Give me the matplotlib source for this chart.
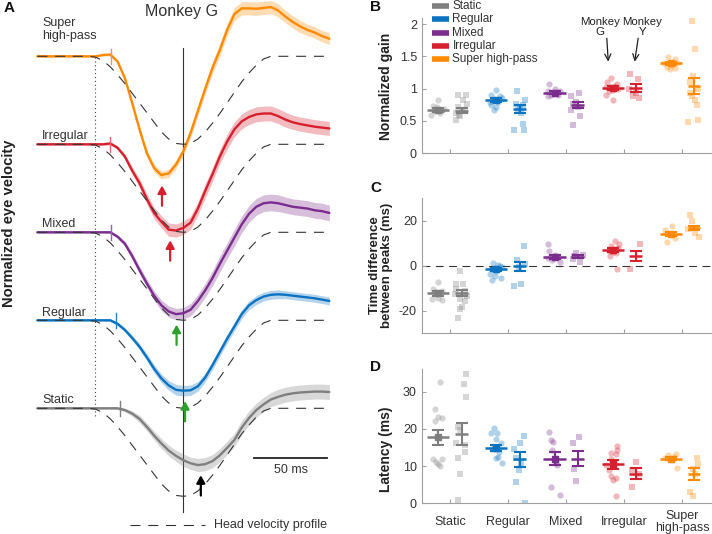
import numpy as np
import matplotlib
matplotlib.use('Agg')
import matplotlib.pyplot as plt

plt.rcParams['font.family'] = ['Liberation Sans', 'DejaVu Sans']

W, H = 712, 534

# ===================== DATA: panel A (Monkey G traces) =====================
time_ms = np.arange(-100, 101, 5)
trace_names = ['Super high-pass', 'Irregular', 'Mixed', 'Regular', 'Static']

vel_super = [0, 0, 0, 0, 0, 0, 0, 0, 0,
             0.015, 0.02, -0.06, -0.25, -0.53, -0.83, -1.10, -1.27, -1.35, -1.33, -1.23,
             -1.08, -0.87, -0.62, -0.37, -0.13, 0.07, 0.30, 0.48, 0.545, 0.545,
             0.54, 0.55, 0.56, 0.52, 0.45, 0.39, 0.34, 0.30, 0.27, 0.23, 0.20]
vel_irregular = [0, 0, 0, 0, 0, 0, 0, 0, 0, 0,
                 0.01, -0.04, -0.14, -0.30, -0.44, -0.62, -0.78, -0.88, -0.97, -0.98,
                 -0.95, -0.89, -0.73, -0.53, -0.34, -0.14, 0.03, 0.17, 0.26, 0.31,
                 0.34, 0.35, 0.35, 0.32, 0.28, 0.25, 0.23, 0.215, 0.20, 0.19, 0.18]
vel_mixed = [0, 0, 0, 0, 0, 0, 0, 0, 0, 0,
             0.0, -0.05, -0.13, -0.27, -0.43, -0.58, -0.72, -0.83, -0.90, -0.93,
             -0.92, -0.88, -0.78, -0.66, -0.52, -0.36, -0.21, -0.06, 0.09, 0.21,
             0.29, 0.33, 0.34, 0.33, 0.31, 0.29, 0.28, 0.27, 0.25, 0.24, 0.22]
vel_regular = [0, 0, 0, 0, 0, 0, 0, 0, 0, 0,
               0.0, -0.04, -0.11, -0.20, -0.30, -0.42, -0.55, -0.66, -0.74, -0.79,
               -0.80, -0.795, -0.75, -0.65, -0.51, -0.36, -0.21, -0.07, 0.07, 0.17,
               0.23, 0.27, 0.29, 0.295, 0.29, 0.28, 0.27, 0.26, 0.25, 0.235, 0.22]
vel_static = [0, 0, 0, 0, 0, 0, 0, 0, 0, 0, 0, 0,
              -0.02, -0.06, -0.12, -0.21, -0.31, -0.40, -0.48, -0.54,
              -0.59, -0.625, -0.645, -0.635, -0.60, -0.535, -0.45, -0.36, -0.22, -0.11,
              -0.02, 0.045, 0.10, 0.13, 0.155, 0.17, 0.18, 0.185, 0.19, 0.19, 0.185]

sem_super = [0.01, 0.01, 0.01, 0.01, 0.01, 0.01, 0.01, 0.01, 0.01, 0.01,
             0.015, 0.02, 0.025, 0.03, 0.035, 0.04, 0.045, 0.045, 0.045, 0.05,
             0.05, 0.055, 0.06, 0.06, 0.065, 0.07, 0.07, 0.075, 0.075, 0.075,
             0.075, 0.075, 0.075, 0.075, 0.07, 0.07, 0.07, 0.065, 0.065, 0.065, 0.065]
sem_irregular = [0.01, 0.01, 0.01, 0.01, 0.01, 0.01, 0.01, 0.01, 0.01, 0.01,
                 0.015, 0.02, 0.03, 0.04, 0.05, 0.06, 0.065, 0.07, 0.075, 0.075,
                 0.075, 0.075, 0.075, 0.08, 0.08, 0.08, 0.085, 0.085, 0.085, 0.085,
                 0.085, 0.085, 0.085, 0.085, 0.085, 0.08, 0.08, 0.08, 0.08, 0.08, 0.08]
sem_mixed = [0.01, 0.01, 0.01, 0.01, 0.01, 0.01, 0.01, 0.01, 0.01, 0.01,
             0.015, 0.02, 0.03, 0.04, 0.045, 0.05, 0.055, 0.06, 0.065, 0.065,
             0.065, 0.07, 0.075, 0.08, 0.085, 0.09, 0.09, 0.095, 0.095, 0.095,
             0.095, 0.095, 0.095, 0.095, 0.09, 0.09, 0.09, 0.09, 0.09, 0.09, 0.09]
sem_regular = [0.01, 0.01, 0.01, 0.01, 0.01, 0.01, 0.01, 0.01, 0.01, 0.01,
               0.015, 0.02, 0.025, 0.03, 0.035, 0.04, 0.045, 0.05, 0.055, 0.06,
               0.06, 0.06, 0.055, 0.05, 0.05, 0.05, 0.05, 0.05, 0.05, 0.05,
               0.05, 0.05, 0.05, 0.05, 0.045, 0.045, 0.045, 0.045, 0.045, 0.045, 0.045]
sem_static = [0.01, 0.01, 0.01, 0.01, 0.01, 0.01, 0.01, 0.01, 0.01, 0.01, 0.01, 0.015,
              0.02, 0.03, 0.04, 0.045, 0.05, 0.055, 0.06, 0.065,
              0.07, 0.07, 0.075, 0.075, 0.075, 0.075, 0.075, 0.075, 0.08, 0.08,
              0.08, 0.08, 0.08, 0.085, 0.085, 0.085, 0.085, 0.085, 0.085, 0.085, 0.085]

head_velocity = [0, 0, 0, 0, 0, 0, 0, 0,
                 -0.01, -0.05, -0.12, -0.21, -0.31, -0.42, -0.53, -0.64, -0.75, -0.86, -0.94, -0.99,
                 -1.0, -0.99, -0.94, -0.86, -0.76, -0.65, -0.53, -0.41, -0.29, -0.19, -0.10, -0.03, 0.0,
                 0, 0, 0, 0, 0, 0, 0, 0]

onset_ms = [-49.5, -50.2, -49.5, -46.0, -43.4]
eye_peak_ms = [-14.6, -9.0, -4.6, 1.2, 12.0]

# ===================== DATA: panels B-D =====================
categories = ['Static', 'Regular', 'Mixed', 'Irregular', 'Super high-pass']
cat_ticklabels = ['Static', 'Regular', 'Mixed', 'Irregular', 'Super\nhigh-pass']

gain_G_vals = [[0.82, 0.73, 0.59, 0.65, 0.67, 0.72, 0.62, 0.69],
               [0.98, 0.90, 0.88, 0.83, 0.80, 0.75, 0.72, 0.67, 0.85, 0.80],
               [1.08, 1.00, 0.96, 0.90, 0.90, 0.88, 0.96],
               [1.16, 1.11, 1.08, 1.03, 0.99, 0.96, 0.90, 0.98, 0.82, 1.02, 1.04],
               [1.49, 1.46, 1.39, 1.37, 1.34, 1.32, 1.30, 1.39]]
gain_G_jit = [[0.0, -0.1, -0.12, -0.06, 0.06, -0.03, 0.03, 0.09],
              [-0.01, -0.09, 0.06, -0.06, 0.03, -0.09, 0.0, -0.05, 0.09, -0.11],
              [-0.1, 0.0, -0.12, -0.06, 0.06, -0.11, 0.09],
              [-0.02, -0.1, 0.07, -0.12, 0.1, -0.07, -0.11, 0.01, 0.0, -0.05, 0.04],
              [-0.04, 0.07, -0.11, 0.02, -0.07, 0.07, -0.01, 0.1]]
gain_Y_vals = [[0.90, 0.90, 0.83, 0.72, 0.62, 0.57, 0.52, 0.67, 0.67, 0.59, 0.77],
               [0.97, 0.83, 0.77, 0.75, 0.67, 0.62, 0.46, 0.36, 0.36, 0.72],
               [0.93, 0.89, 0.77, 0.72, 0.67, 0.57, 0.44, 0.80],
               [1.23, 1.15, 1.00, 0.93, 0.88, 0.85],
               [2.05, 1.62, 1.20, 1.11, 1.00, 0.88, 0.83, 0.75, 0.48, 0.51, 0.94]]
gain_Y_jit = [[-0.07, 0.07, 0.02, -0.06, -0.1, -0.03, -0.1, 0.06, 0.0, -0.04, 0.09],
              [-0.04, 0.09, -0.06, 0.06, -0.03, 0.03, 0.06, -0.09, 0.07, 0.0],
              [0.02, -0.11, -0.09, 0.0, -0.12, 0.03, -0.09, -0.03],
              [-0.1, 0.04, -0.11, 0.01, -0.05, 0.06],
              [-0.04, 0.02, -0.01, -0.07, 0.07, -0.04, 0.02, 0.05, -0.1, 0.07, -0.07]]
gain_G_mean = [0.67, 0.82, 0.94, 1.01, 1.39]
gain_G_err = [0.025, 0.03, 0.02, 0.03, 0.025]
gain_Y_mean = [0.66, 0.69, 0.75, 1.01, 1.04]
gain_Y_err = [0.04, 0.06, 0.05, 0.065, 0.13]

tdiff_G_vals = [[-7.1, -10.4, -11.1, -12.6, -14.8, -15.1, -14.1, -11.6],
                [1.2, 0.3, -0.7, -1.2, -2.2, -3.7, -4.4, -5.2, -6.2, 0.0],
                [9.6, 6.7, 4.7, 3.3, 2.7, 1.5, 3.7],
                [11.1, 9.6, 8.6, 6.7, 5.6, 4.4, 8.1, -1.2, 6.2],
                [17.8, 16.0, 14.1, 10.7, 12.5]]
tdiff_G_jit = [[0.0, -0.09, 0.06, -0.03, -0.11, 0.06, 0.0, -0.06],
               [-0.06, 0.03, 0.09, -0.09, 0.0, -0.11, -0.03, 0.07, -0.07, 0.06],
               [-0.12, -0.09, 0.0, -0.12, -0.04, 0.09, 0.04],
               [0.04, 0.11, -0.02, -0.07, 0.06, -0.05, 0.1, 0.08, 0.01],
               [0.03, -0.1, -0.01, -0.07, 0.07]]
tdiff_Y_vals = [[-2.2, -8.1, -8.1, -11.1, -12.6, -14.8, -15.6, -18.5, -19.3, -23.3, -10.4, -13.3],
                [8.9, 2.7, 0.7, -0.7, -8.1, -8.9],
                [5.6, 4.7, 3.0, 1.5, 4.4],
                [9.8, -1.2],
                [22.8, 20.0, 16.3, 14.8, 12.9, 17.0]]
tdiff_Y_jit = [[-0.03, -0.09, 0.03, 0.06, -0.11, -0.03, 0.06, 0.0, -0.03, -0.06, -0.1, 0.09],
               [0.07, -0.04, 0.09, -0.01, 0.03, -0.09],
               [-0.03, 0.09, -0.09, 0.03, -0.06],
               [0.07, -0.1],
               [-0.07, -0.04, -0.1, 0.02, 0.09, -0.01]]
tdiff_G_mean = [-12.3, -1.5, 4.0, 7.0, 14.1]
tdiff_G_err = [0.9, 0.7, 0.9, 1.0, 1.0]
tdiff_Y_mean = [-12.1, -0.3, 4.1, 4.4, 16.7]
tdiff_Y_err = [1.4, 2.0, 0.8, 2.2, 1.0]

lat_G_vals = [[32.6, 25.3, 23.0, 23.1, 22.1, 11.8, 11.0, 10.5, 10.0, 12.0],
              [20.1, 19.0, 18.8, 17.2, 16.3, 14.7, 13.7, 12.5, 12.3, 10.7, 14.7],
              [19.2, 17.0, 16.5, 14.3, 11.6, 10.3, 4.3, 2.2, 10.7],
              [15.5, 14.3, 13.6, 13.2, 11.8, 10.3, 7.4, 6.7, 6.3, 2.0, 8.9],
              [13.1, 13.2, 11.6, 9.4, 12.1, 12.5]]
lat_G_jit = [[0.02, -0.05, 0.07, 0.0, -0.05, 0.06, -0.04, -0.01, 0.03, -0.09],
             [-0.05, 0.01, -0.09, -0.01, 0.07, -0.03, 0.05, 0.03, 0.0, 0.1, -0.07],
             [-0.09, -0.06, -0.02, -0.04, 0.0, 0.04, -0.06, 0.09, 0.03],
             [0.07, 0.08, -0.03, 0.06, -0.02, -0.11, -0.03, 0.06, 0.01, 0.06, -0.07],
             [-0.05, 0.09, 0.02, 0.1, -0.1, 0.05]]
lat_Y_vals = [[34.8, 32.1, 28.6, 20.5, 16.1, 15.6, 13.8, 12.3, 7.9, 0.9, 19.6],
              [18.0, 14.6, 16.1, 12.1, 8.9, 5.8, 0.2, 10.7],
              [17.9, 16.3, 9.1, 6.1],
              [11.2, 4.3, 8.9, 8.0],
              [12.3, 10.5, 9.1, 3.1, 2.0, 8.0]]
lat_Y_jit = [[0.07, 0.04, 0.07, -0.07, -0.09, 0.05, 0.06, -0.07, -0.02, -0.07, -0.03],
             [0.07, -0.1, 0.0, -0.06, -0.01, -0.06, 0.1, 0.03],
             [0.02, -0.09, -0.07, -0.03],
             [0.01, -0.06, -0.07, 0.06],
             [0.05, 0.07, -0.02, -0.07, -0.01, 0.02]]
lat_G_mean = [17.7, 14.8, 12.0, 10.5, 12.0]
lat_G_err = [2.1, 0.8, 1.7, 1.2, 0.5]
lat_Y_mean = [18.6, 11.8, 12.0, 8.0, 7.9]
lat_Y_err = [3.0, 2.1, 2.1, 1.5, 1.6]

# ===================== STYLE =====================
COLORS = {'Static': '#7f7f7f', 'Regular': '#0a72c0', 'Mixed': '#7b2d8e',
          'Irregular': '#d6202e', 'Super high-pass': '#ff8a00'}
TICK_COLORS = {'Super high-pass': '#f08c80', 'Irregular': '#e56470', 'Mixed': '#9a62ab',
               'Regular': '#2b7fc6', 'Static': '#7f7f7f'}
ARROW_COLORS = ['#d6202e', '#d6202e', '#2ca02c', '#2ca02c', '#000000']
TXT = '#333333'
AXC = '#a0a0a0'

fig = plt.figure(figsize=(W / 100, H / 100), dpi=100)

# ===================== PANEL A =====================
def tA(xpx):
    return (xpx - 183.3) / 1.46

def vA(ypx):
    return (408.3 - ypx) / 88.0

axA = fig.add_axes([30 / W, 0, 310 / W, 1])
axA.set_xlim(tA(30), tA(340))
axA.set_ylim(vA(534), vA(0))
axA.axis('off')

traces = [vel_super, vel_irregular, vel_mixed, vel_regular, vel_static]
sems = [sem_super, sem_irregular, sem_mixed, sem_regular, sem_static]
stack_offsets = [4, 3, 2, 1, 0]
label_y = [4.20, 3.06, 2.06, 1.05, 0.057]

# reference lines
axA.plot([0, 0], [vA(48), vA(512)], color='#333333', lw=0.8, zorder=1)
axA.plot([tA(95), tA(95)], [vA(57), vA(418)], color='#444444', lw=0.8,
         ls=(0, (1, 2.5)), zorder=1)

for k, name in enumerate(trace_names):
    c = COLORS[name]
    off = stack_offsets[k]
    y = off + np.array(traces[k])
    s = np.array(sems[k])
    axA.fill_between(time_ms, y - s, y + s, color=c, alpha=0.3, lw=0, zorder=2)
    axA.plot(time_ms, y, color=c, lw=1.7, zorder=3, solid_capstyle='round')
    axA.plot(time_ms, off + np.array(head_velocity), color='#333333', lw=0.8,
             ls=(0, (9, 7)), zorder=4)
    axA.plot([onset_ms[k], onset_ms[k]], [off - 0.085, off + 0.085],
             color=TICK_COLORS[name], lw=1.0, zorder=5)
    txt = 'Super\nhigh-pass' if name == 'Super high-pass' else name
    axA.text(tA(42), label_y[k], txt, fontsize=9, color=TXT, ha='left',
             va='baseline', linespacing=1.05, zorder=6)

# arrows marking eye-velocity troughs
for k in range(5):
    tp = eye_peak_ms[k]
    ymin = stack_offsets[k] + np.interp(tp, time_ms, traces[k])
    axA.annotate('', xy=(tp, ymin - 0.12), xytext=(tp, ymin - 0.35),
                 arrowprops=dict(arrowstyle='-|>,head_length=0.45,head_width=0.25',
                                 color=ARROW_COLORS[k], lw=1.6,
                                 shrinkA=0, shrinkB=0), zorder=7)

axA.text(tA(181.7), vA(11), 'Monkey G', fontsize=11.5, color=TXT,
         ha='center', va='center')

# scale bar
axA.plot([tA(254), tA(254) + 50], [vA(458.3), vA(458.3)], color='#222222', lw=1.3)
axA.text(tA(254) + 25, vA(470), '50 ms', fontsize=9, color=TXT, ha='center', va='center')

# head velocity legend
axA.plot([tA(130), tA(205)], [vA(525), vA(525)], color='#333333', lw=0.8,
         ls=(0, (9, 7)))
axA.text(tA(214), vA(525), 'Head velocity profile', fontsize=9, color=TXT,
         ha='left', va='center')

fig.text(9.5 / W, 1 - 223 / H, 'Normalized eye velocity', rotation=90,
         fontsize=10.6, fontweight='bold', color='#222222', ha='center', va='center')

# ===================== PANELS B-D =====================
def px_axes(left, right, top, bottom):
    return fig.add_axes([left / W, 1 - bottom / H, (right - left) / W, (bottom - top) / H])

axB = px_axes(421.7, 711.7, 17.6, 153.3)
axC = px_axes(421.7, 711.7, 198.3, 333.3)
axD = px_axes(421.7, 711.7, 369.3, 503.3)

def draw_panel(ax, Gv, Gj, Yv, Yj, Gm, Ge, Ym, Ye):
    for i, cat in enumerate(categories):
        c = COLORS[cat]
        xc = i + 1
        xg = xc - 0.2
        xy = xc + 0.2
        ax.scatter(xg + np.array(Gj[i]), Gv[i], marker='o', s=20, color=c,
                   alpha=0.32, lw=0, zorder=2)
        ax.scatter(xy + np.array(Yj[i]), Yv[i], marker='s', s=17, color=c,
                   alpha=0.32, lw=0, zorder=2)
        ax.plot([xg - 0.19, xg + 0.19], [Gm[i], Gm[i]], color=c, lw=1.8, zorder=3,
                solid_capstyle='butt')
        ax.plot([xy - 0.11, xy + 0.11], [Ym[i], Ym[i]], color=c, lw=1.8, zorder=3,
                solid_capstyle='butt')
        ax.errorbar([xg], [Gm[i]], yerr=[Ge[i]], color=c, lw=1.5, capsize=4.5,
                    capthick=1.5, marker='s', ms=4.5, zorder=4)
        ax.errorbar([xy], [Ym[i]], yerr=[Ye[i]], color=c, lw=1.5, capsize=4.5,
                    capthick=1.5, zorder=4)
    ax.set_xlim(0.513, 5.506)
    ax.set_xticks([1, 2, 3, 4, 5])
    for sp in ['top', 'right']:
        ax.spines[sp].set_visible(False)
    for sp in ['left', 'bottom']:
        ax.spines[sp].set_color(AXC)
        ax.spines[sp].set_linewidth(0.8)
    ax.tick_params(direction='in', length=3, width=0.8, color=AXC,
                   labelcolor=TXT, labelsize=9)
    ax.patch.set_alpha(0)

draw_panel(axB, gain_G_vals, gain_G_jit, gain_Y_vals, gain_Y_jit,
           gain_G_mean, gain_G_err, gain_Y_mean, gain_Y_err)
axB.set_ylim(0, 2.1)
axB.set_yticks([0, 0.5, 1, 1.5, 2])
axB.set_yticklabels(['0', '0.5', '1', '1.5', '2'])
axB.tick_params(axis='x', labelbottom=False)

draw_panel(axC, tdiff_G_vals, tdiff_G_jit, tdiff_Y_vals, tdiff_Y_jit,
           tdiff_G_mean, tdiff_G_err, tdiff_Y_mean, tdiff_Y_err)
axC.set_ylim(-30, 30)
axC.set_yticks([-20, 0, 20])
axC.set_yticklabels(['-20', '0', '20'])
axC.tick_params(axis='x', labelbottom=False)
axC.axhline(0, color='#333333', lw=0.8, ls=(0, (7, 5)), zorder=1)

draw_panel(axD, lat_G_vals, lat_G_jit, lat_Y_vals, lat_Y_jit,
           lat_G_mean, lat_G_err, lat_Y_mean, lat_Y_err)
axD.set_ylim(0, 36)
axD.set_yticks([0, 10, 20, 30])
axD.set_xticklabels(cat_ticklabels)
axD.tick_params(axis='x', pad=13.5)
for lab in axD.get_xticklabels():
    lab.set_verticalalignment('center')
    lab.set_linespacing(0.95)

# Monkey annotations in B
for txt, xt, xh0, xh1 in [('Monkey\nG', 3.58, 3.70, 3.725), ('Monkey\nY', 4.31, 4.24, 4.18)]:
    axB.text(xt, 1.955, txt, fontsize=8.2, color='#222222', ha='center',
             va='center', linespacing=1.0)
    axB.annotate('', xy=(xh1, 1.418), xytext=(xh0, 1.78),
                 arrowprops=dict(arrowstyle='->,head_length=0.45,head_width=0.22',
                                 color='#222222', lw=0.9, shrinkA=0, shrinkB=0))

# Legend in B (manual swatches)
leg_y = [5.7, 19.0, 32.5, 45.8, 59.3]
for cat, yy in zip(categories, leg_y):
    fig.add_artist(plt.Line2D([432 / W, 449 / W], [1 - yy / H, 1 - yy / H],
                              color=COLORS[cat], lw=4, solid_capstyle='butt',
                              transform=fig.transFigure))
    fig.text(452.5 / W, 1 - yy / H, cat, fontsize=8.5, color=TXT, ha='left', va='center')

# y labels
fig.text(386 / W, 1 - 86 / H, 'Normalized gain', rotation=90, fontsize=10,
         fontweight='bold', color='#222222', ha='center', va='center')
fig.text(381 / W, 1 - 265 / H, 'Time difference\nbetween peaks (ms)', rotation=90,
         fontsize=9.5, fontweight='bold', color='#222222', ha='center', va='center',
         linespacing=0.95)
fig.text(386 / W, 1 - 449 / H, 'Latency (ms)', rotation=90, fontsize=10,
         fontweight='bold', color='#222222', ha='center', va='center')

# panel letters
for lt, xx, yy in [('A', 9, 8), ('B', 376, 7), ('C', 376, 188), ('D', 376, 367)]:
    fig.text(xx / W, 1 - yy / H, lt, fontsize=11, fontweight='bold',
             color='#111111', ha='center', va='center')

fig.savefig('out.png', dpi=100)
